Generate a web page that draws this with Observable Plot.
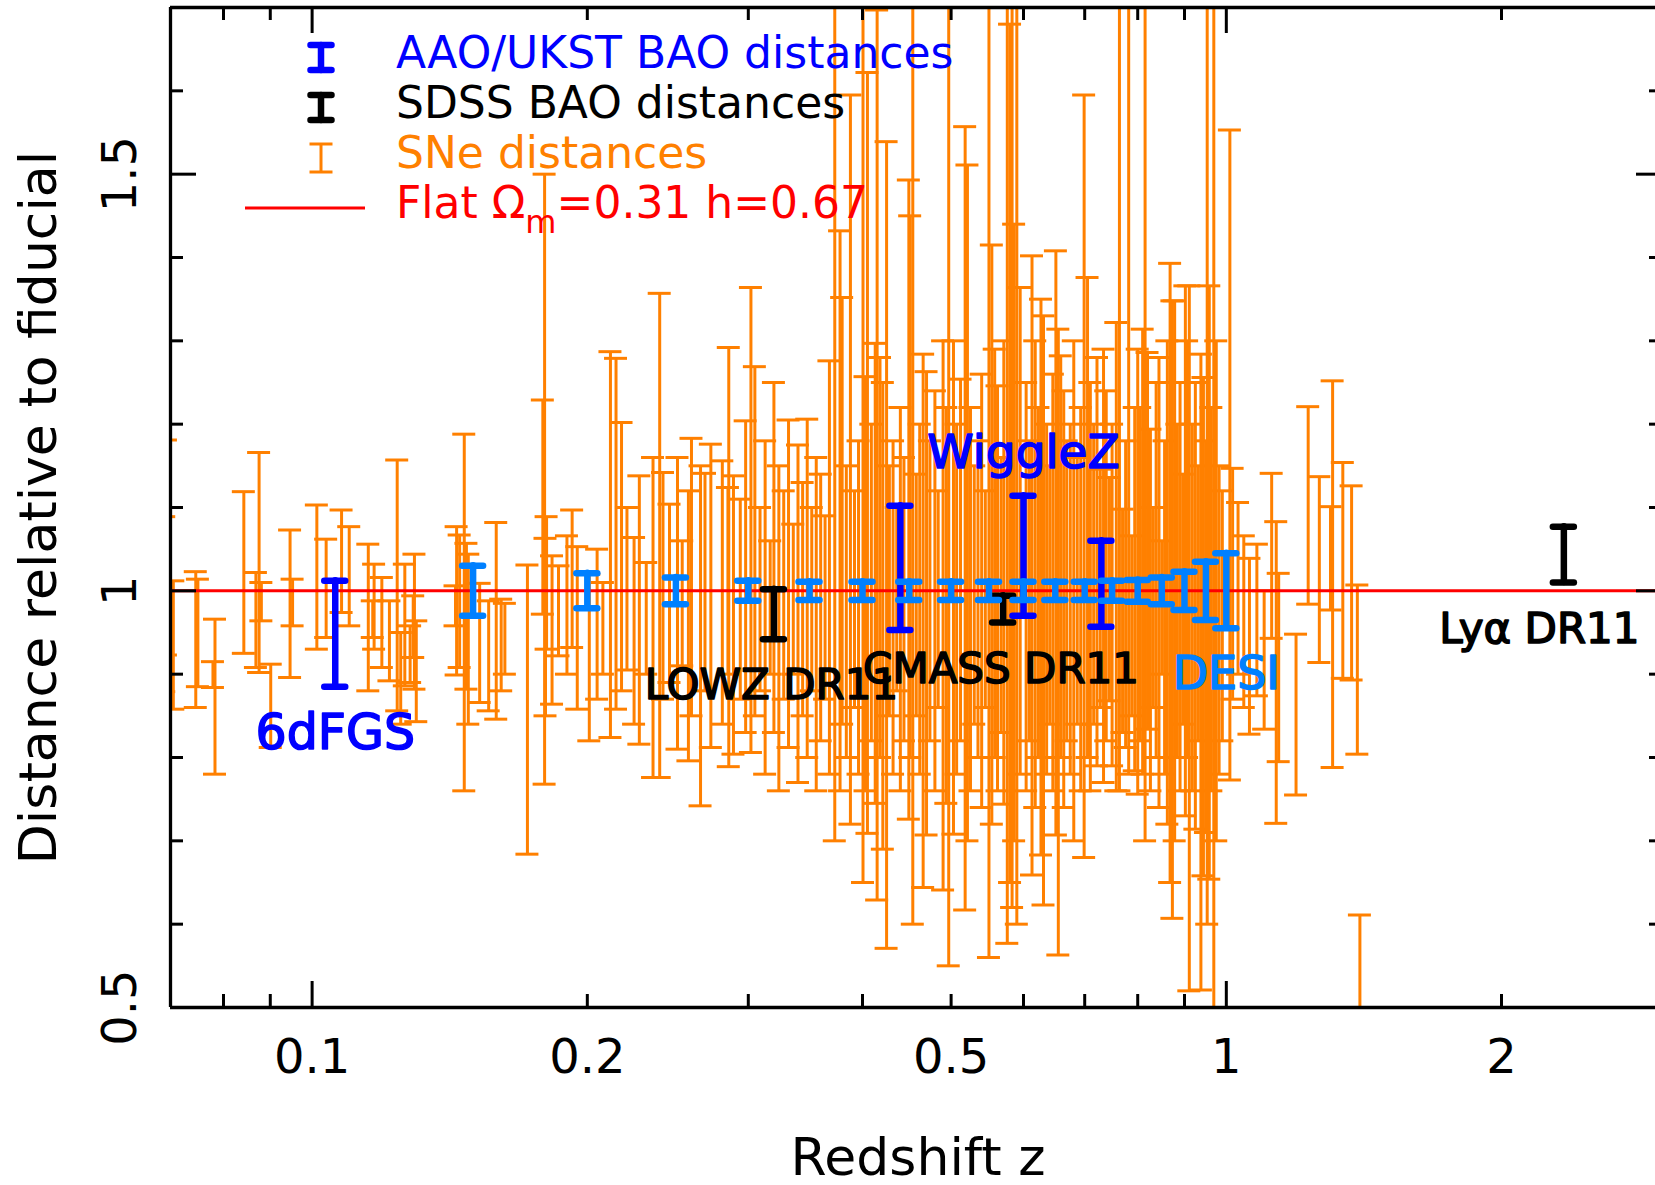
<!DOCTYPE html>
<html><head><meta charset="utf-8">
<script src="https://cdn.jsdelivr.net/npm/d3@7"></script>
<script src="https://cdn.jsdelivr.net/npm/@observablehq/plot@0.6"></script>
<style>
html,body{margin:0;padding:0;background:#fff;}
#chart svg{display:block;}
</style></head><body><div id="chart"></div>
<script>
// ---------------- data ----------------
const xTickLabels = [0.1, 0.2, 0.5, 1, 2];
const xMajorTicks = [0.1, 1];
const xMinorTicks = [0.08, 0.09, 0.2, 0.3, 0.4, 0.5, 0.6, 0.7, 0.8, 0.9, 2];
const yTickLabels = [0.5, 1, 1.5];
const yMajorTicks = [0.5, 1.0, 1.5];
const yMinorTicks = [0.6, 0.7, 0.8, 0.9, 1.1, 1.2, 1.3, 1.4, 1.6];

// AAO/UKST BAO distances (6dFGS, WiggleZ x3)
const baoZ  = [0.106, 0.44, 0.60, 0.73];
const baoLo = [0.885, 0.953, 0.970, 0.957];
const baoHi = [1.012, 1.102, 1.114, 1.060];

// SDSS BAO distances (LOWZ DR11, CMASS DR11, Lya DR11)
const sdssZ  = [0.32, 0.57, 2.34];
const sdssLo = [0.942, 0.962, 1.010];
const sdssHi = [1.002, 0.994, 1.077];

// DESI forecast distances
const desiZ   = [0.15, 0.20, 0.25, 0.30, 0.35, 0.40, 0.45, 0.50, 0.55, 0.60, 0.65, 0.70, 0.75, 0.80, 0.85, 0.90, 0.95, 1.00];
const desiMid = [1, 1, 1, 1, 1, 1, 1, 1, 1, 1, 1, 1, 1, 1, 1, 1, 1, 1];
const desiErr = [0.030, 0.021, 0.016, 0.012, 0.011, 0.011, 0.011, 0.011, 0.011, 0.011, 0.011, 0.011, 0.012, 0.013, 0.016, 0.023, 0.035, 0.045];

// SNe distances
const sneZ = [
  0.0692,0.0689,0.0705,0.0746,0.0750,0.0783,0.0779,0.0842,0.0875,0.0868,0.0880,0.0901,0.0946,0.0952,0.1012,0.1036,0.1077,0.1098,0.1152,0.1169,0.1165,0.1192,0.1215,0.1239,0.1250,0.1263,0.1280,0.1294,0.1290,0.1300,
  0.1435,0.1439,0.1450,0.1467,0.1475,0.1482,0.1525,0.1560,0.1590,0.1610,0.1625,0.1720,0.1788,0.1796,0.1800,0.1805,0.1830,0.1860,0.1900,0.1925,0.1950,0.2010,
  0.205,0.208,0.212,0.215,0.218,0.221,0.225,0.228,0.232,0.236,0.240,0.242,0.246,0.251,0.254,0.258,0.260,0.266,0.269,0.273,0.2856,0.281,0.285,0.289,0.294,0.298,
  0.302,0.305,0.309,0.313,0.317,0.320,0.324,0.328,0.332,0.336,0.340,0.344,0.348,0.352,0.356,0.360,0.364,0.368,0.373,0.378,0.380,0.384,0.388,0.392,0.396,0.4005,
  0.403,0.405,0.409,0.413,0.415,0.418,0.421,0.425,0.428,0.432,0.436,0.440,0.444,0.4495,0.451,0.454,0.458,0.462,0.466,0.470,0.474,0.480,0.484,0.490,0.494,0.497,
  0.503,0.507,0.512,0.518,0.521,0.525,0.530,0.535,0.540,0.545,0.550,0.554,0.558,0.562,0.567,0.571,0.576,0.580,0.583,0.586,0.590,0.595,
  0.604,0.609,0.613,0.618,0.623,0.627,0.631,0.636,0.641,0.646,0.651,0.655,0.659,0.664,0.669,0.675,0.681,0.687,0.693,0.699,
  0.705,0.710,0.716,0.722,0.728,0.734,0.739,0.745,0.750,0.758,0.764,0.770,0.776,0.782,0.788,0.794,
  0.800,0.805,0.810,0.815,0.820,0.826,0.832,0.838,0.844,0.850,0.856,0.862,0.868,0.873,0.878,0.884,0.890,0.896,
  0.902,0.906,0.911,0.918,0.925,0.932,0.938,0.944,0.950,0.953,0.958,0.963,0.969,0.975,0.982,0.990,
  1.009,1.016,1.030,1.045,1.060,1.080,1.100,1.121,1.134,1.141,1.192,1.229,1.264,1.300,1.307,1.341,1.371,1.391,1.400
];
const sneLo = [
  0.923,0.879,0.858,0.860,0.885,0.780,0.884,0.925,0.902,0.908,0.964,0.812,0.896,0.958,0.930,0.944,0.974,0.958,0.880,0.930,0.944,0.908,0.892,0.856,0.840,0.886,0.890,0.882,0.920,0.843,
  0.958,0.899,0.908,0.760,0.882,0.840,0.866,0.856,0.846,0.880,0.900,0.684,0.972,0.768,0.850,0.930,0.864,0.922,0.900,0.932,0.858,0.820,
  0.870,0.900,0.824,0.858,0.880,0.905,0.840,0.816,0.900,0.776,0.776,0.870,0.890,0.810,0.910,0.796,0.850,0.742,0.880,0.812,0.789,0.840,0.900,0.804,0.870,0.830,
  0.806,0.850,0.880,0.780,0.900,0.830,0.760,0.870,0.812,0.900,0.770,0.850,0.800,0.880,0.760,0.820,0.870,0.780,0.700,0.760,0.840,0.800,0.720,0.860,0.780,0.650,
  0.760,0.709,0.820,0.745,0.629,0.800,0.690,0.571,0.850,0.780,0.880,0.760,0.820,0.726,0.800,0.600,0.850,0.780,0.644,0.707,0.820,0.760,0.860,0.641,0.745,0.550,
  0.708,0.780,0.820,0.617,0.700,0.760,0.840,0.800,0.740,0.860,0.560,0.720,0.800,0.760,0.830,0.744,0.577,0.650,0.620,0.700,0.600,0.780,
  0.760,0.820,0.659,0.740,0.800,0.683,0.623,0.780,0.840,0.760,0.707,0.563,0.800,0.740,0.820,0.780,0.700,0.840,0.760,0.680,
  0.800,0.760,0.840,0.790,0.860,0.770,0.820,0.868,0.790,0.760,0.760,0.830,0.812,0.780,0.850,0.784,
  0.756,0.820,0.780,0.700,0.834,0.760,0.860,0.800,0.740,0.900,0.780,0.720,0.650,0.607,0.700,0.800,0.760,0.840,
  0.730,0.800,0.520,0.760,0.714,0.820,0.521,0.658,0.710,0.600,0.654,0.760,0.450,0.700,0.780,0.820,
  0.773,0.870,0.900,0.860,0.828,0.874,0.834,0.943,0.721,0.795,0.755,0.984,0.914,0.977,0.788,0.895,0.893,0.804,0.400
];
const sneHi = [
  1.181,1.089,1.012,1.023,1.014,0.966,0.915,1.119,1.166,1.022,1.010,0.912,1.073,1.014,1.103,1.062,1.097,1.077,1.056,1.032,0.988,1.016,0.988,1.157,0.950,1.032,0.958,1.044,0.994,0.964,
  1.006,1.077,1.067,1.188,1.057,1.044,1.009,0.988,1.082,0.990,0.985,1.031,1.229,1.500,1.063,1.089,1.042,1.030,1.066,1.097,1.053,1.020,
  1.050,1.010,1.287,1.279,1.202,1.100,1.064,1.138,1.034,1.160,1.357,1.142,1.104,1.160,1.060,1.120,1.183,1.150,1.141,1.176,1.292,1.156,1.124,1.138,1.110,1.204,
  1.364,1.269,1.100,1.180,1.060,1.250,1.150,1.120,1.205,1.080,1.175,1.130,1.206,1.100,1.160,1.140,1.090,1.276,1.750,1.432,1.352,1.150,1.595,1.120,1.180,1.750,
  1.257,1.622,1.200,1.297,1.697,1.280,1.250,1.539,1.150,1.180,1.100,1.220,1.160,1.493,1.450,1.750,1.140,1.200,1.284,1.263,1.180,1.240,1.120,1.300,1.220,1.750,
  1.300,1.200,1.254,1.557,1.511,1.220,1.150,1.180,1.260,1.120,1.750,1.415,1.290,1.246,1.160,1.300,1.750,1.680,1.750,1.440,1.750,1.364,
  1.250,1.180,1.402,1.300,1.220,1.350,1.330,1.200,1.150,1.260,1.408,1.314,1.282,1.240,1.180,1.200,1.300,1.160,1.220,1.595,
  1.376,1.250,1.200,1.280,1.146,1.290,1.240,1.136,1.200,1.322,1.750,1.098,1.180,1.750,1.066,1.220,
  1.290,1.220,1.314,1.750,1.286,1.194,1.100,1.250,1.280,1.060,1.180,1.300,1.393,1.348,1.348,1.200,1.250,1.140,
  1.366,1.300,1.366,1.200,1.250,1.150,1.284,1.256,1.180,1.750,1.366,1.220,1.750,1.300,1.150,1.120,
  1.553,1.147,1.106,1.066,1.039,1.056,1.000,1.141,1.083,1.021,0.948,1.221,1.137,1.101,1.252,1.154,1.126,1.007,0.611
];

// text annotations
const labelText = ["6dFGS", "WiggleZ", "LOWZ DR11", "CMASS DR11", "DESI", "Lyα DR11"];
const labelZ    = [0.106, 0.600, 0.318, 0.567, 1.0, 2.20];
const labelY    = [0.810, 1.148, 0.870, 0.890, 0.882, 0.938];

const legendText = ["AAO/UKST BAO distances", "SDSS BAO distances", "SNe distances"];
const modelText = ["Flat Ω", "m", "=0.31 h=0.67"];
const xTitle = "Redshift z";
const yTitle = "Distance relative to fiducial";

// ---------------- layout / style ----------------
const W = 1655, H = 1185;
const mL = 170, mT = 7, mB = 178;
const xMin = 0.07, xMax = 3.0, yMin = 0.5, yMax = 1.7;
const xR0 = 170, xR1 = 1662;
const ORANGE = "#ff8000", BLUE = "#0000ff", LBLUE = "#0080ff", RED = "#ff0000", BLACK = "#000000";
const FONT = "DejaVu Sans";

const pxY = (H - mT - mB) / (yMax - yMin);
const pxDec = (xR1 - xR0) / Math.log10(xMax / xMin);
const kx = px => Math.pow(10, px / pxDec);

const rows = (zs, los, his) => zs.map((z, i) => ({z, lo: los[i], hi: his[i]}));
const sne = rows(sneZ, sneLo, sneHi);
const bao = rows(baoZ, baoLo, baoHi);
const sdss = rows(sdssZ, sdssLo, sdssHi);
const desi = desiZ.map((z, i) => ({z, lo: desiMid[i] - desiErr[i], hi: desiMid[i] + desiErr[i]}));

function errorBars(data, color, width, capHalfPx, linecap) {
  const k = kx(capHalfPx);
  const common = {stroke: color, strokeWidth: width, strokeLinecap: linecap, clip: true};
  return [
    Plot.ruleX(data, {x: "z", y1: "lo", y2: "hi", ...common}),
    Plot.ruleY(data, {x1: d => d.z / k, x2: d => d.z * k, y: "lo", ...common}),
    Plot.ruleY(data, {x1: d => d.z / k, x2: d => d.z * k, y: "hi", ...common})
  ];
}

function ticks() {
  const tw = 3, maj = 26, min = 13;
  const t = {stroke: BLACK, strokeWidth: tw};
  return [
    Plot.ruleX(xMajorTicks, {x: d => d, y1: yMin, y2: yMin + maj / pxY, ...t}),
    Plot.ruleX(xMinorTicks, {x: d => d, y1: yMin, y2: yMin + min / pxY, ...t}),
    Plot.ruleX(xMajorTicks, {x: d => d, y1: yMax - maj / pxY, y2: yMax, ...t}),
    Plot.ruleX(xMinorTicks, {x: d => d, y1: yMax - min / pxY, y2: yMax, ...t}),
    Plot.ruleY(yMajorTicks, {y: d => d, x1: xMin, x2: xMin * kx(maj), ...t}),
    Plot.ruleY(yMinorTicks, {y: d => d, x1: xMin, x2: xMin * kx(min), ...t}),
    Plot.ruleY(yMajorTicks, {y: d => d, x1: xMax / kx(maj), x2: xMax, ...t}),
    Plot.ruleY(yMinorTicks, {y: d => d, x1: xMax / kx(min), x2: xMax, ...t})
  ];
}

const labelStyle = [
  {fill: BLUE, size: 49}, {fill: BLUE, size: 47}, {fill: BLACK, size: 42},
  {fill: BLACK, size: 42}, {fill: LBLUE, size: 46}, {fill: BLACK, size: 42}
];
const labelMarks = labelText.map((t, i) => Plot.text([{z: labelZ[i], v: labelY[i], t}], {
  x: "z", y: "v", text: "t", fill: labelStyle[i].fill, stroke: labelStyle[i].fill, strokeWidth: 1.6,
  fontSize: labelStyle[i].size, textAnchor: "middle", lineAnchor: "bottom", fontFamily: FONT
}));

const plot = Plot.plot({
  width: W, height: H,
  marginLeft: mL, marginRight: 0, marginTop: mT, marginBottom: mB,
  x: {type: "log", domain: [xMin, xMax], range: [xR0, xR1], label: null},
  y: {type: "linear", domain: [yMin, yMax], label: null},
  style: {fontFamily: FONT, background: "white", color: "black"},
  marks: [
    ...errorBars(sne, ORANGE, 3, 11.5, "butt"),
    Plot.ruleY([1], {stroke: RED, strokeWidth: 3}),
    ...errorBars(sdss, BLACK, 6.5, 10.5, "round"),
    ...errorBars(bao, BLUE, 6.5, 10.5, "round"),
    ...errorBars(desi, LBLUE, 6.5, 10.5, "round"),
    ...labelMarks,
    // frame
    Plot.ruleY([yMin, yMax], {stroke: BLACK, strokeWidth: 3.3}),
    Plot.ruleX([xMin], {stroke: BLACK, strokeWidth: 3.3}),
    ...ticks(),
    Plot.axisX(xTickLabels, {anchor: "bottom", tickSize: 0, tickPadding: 31, fontSize: 48, tickFormat: d => String(d), label: null, fill: BLACK}),
    Plot.axisY(yTickLabels, {anchor: "left", tickSize: 0, tickPadding: 35, tickRotate: -90, fontSize: 48, tickFormat: d => String(d), label: null, fill: BLACK}),
    Plot.text([xTitle], {frameAnchor: "bottom", dx: 5, dy: 167, text: d => d, fontSize: 52, lineAnchor: "bottom", textAnchor: "middle", fill: BLACK}),
    Plot.text([yTitle], {frameAnchor: "left", dx: -115, text: d => d, fontSize: 52, rotate: -90, lineAnchor: "bottom", textAnchor: "middle", fill: BLACK})
  ]
});

// ---------------- legend (top-left, inside frame) ----------------
const svg = d3.select(plot);
const lg = svg.append("g").attr("font-family", FONT).attr("text-anchor", "start");
function legendBar(x, y1, y2, halfCap, color, sw, cap) {
  lg.append("line").attr("x1", x).attr("x2", x).attr("y1", y1).attr("y2", y2)
    .attr("stroke", color).attr("stroke-width", sw).attr("stroke-linecap", cap);
  for (const y of [y1, y2]) lg.append("line").attr("x1", x - halfCap).attr("x2", x + halfCap)
    .attr("y1", y).attr("y2", y).attr("stroke", color).attr("stroke-width", sw).attr("stroke-linecap", cap);
}
legendBar(321, 45, 70, 10.5, BLUE, 6.5, "round");
legendBar(321, 95, 120, 10.5, BLACK, 6.5, "round");
legendBar(321, 144, 172, 11.5, ORANGE, 3, "butt");
lg.append("line").attr("x1", 245).attr("x2", 365).attr("y1", 208).attr("y2", 208).attr("stroke", RED).attr("stroke-width", 3);
const legColors = [BLUE, BLACK, ORANGE];
legendText.forEach((t, i) => {
  lg.append("text").attr("x", 396).attr("y", 68 + 50 * i).attr("font-size", 44).attr("fill", legColors[i]).text(t);
});
const mt = lg.append("text").attr("x", 396).attr("y", 218).attr("font-size", 44).attr("fill", RED);
mt.append("tspan").text(modelText[0]);
mt.append("tspan").attr("dy", 15).attr("font-size", 32).text(modelText[1]);
mt.append("tspan").attr("dy", -15).text(modelText[2]);

document.getElementById("chart").append(plot);
</script>
</body></html>
